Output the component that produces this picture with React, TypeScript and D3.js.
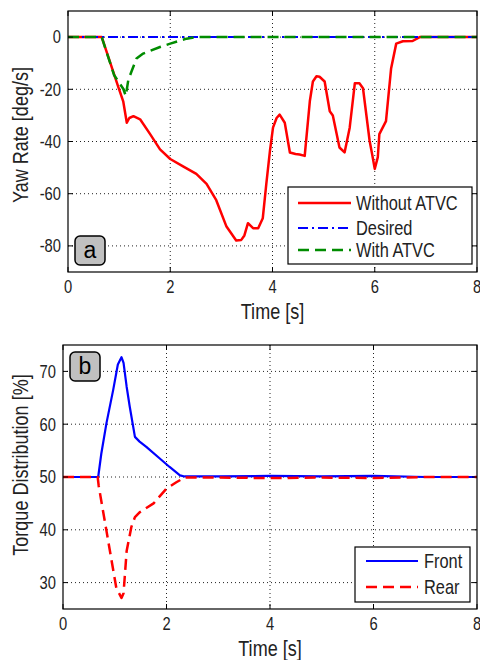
import React from "react";
import * as d3 from "d3";

// ---- Data ----
const withoutTime = [0, 0.66, 0.98, 1.08, 1.15, 1.2, 1.28, 1.41, 1.6, 1.8, 2.0, 2.25, 2.51, 2.71, 2.9, 3.1, 3.29, 3.39, 3.45, 3.52, 3.62, 3.72, 3.81, 3.88, 3.95, 4.01, 4.08, 4.14, 4.24, 4.34, 4.45, 4.53, 4.63, 4.73, 4.79, 4.86, 4.92, 5.02, 5.12, 5.18, 5.31, 5.41, 5.51, 5.61, 5.7, 5.77, 5.9, 5.95, 6.0, 6.06, 6.09, 6.22, 6.32, 6.42, 6.55, 6.74, 6.88, 8];
const withoutYaw = [0, 0, -18.9, -24.6, -32.8, -31, -30.3, -31.5, -37, -43, -46.7, -49.5, -52.4, -56.2, -62.5, -72.6, -77.9, -77.7, -76, -71.3, -73.2, -73.2, -69.4, -56, -43.6, -34.7, -31, -29.7, -32.8, -44.2, -44.8, -45, -45.5, -24.6, -17, -15, -15.2, -17, -28.4, -30, -42.3, -44.2, -34.7, -17.7, -17.7, -19.6, -39.8, -45, -50.5, -46, -37.2, -32.2, -12, -2.5, -1.6, -1.5, 0, 0];

const desiredTime = [0, 8];
const desiredYaw = [0, 0];

const withTime = [0, 0.66, 0.9, 1.08, 1.13, 1.18, 1.24, 1.34, 1.47, 1.8, 2.0, 2.32, 2.5, 8];
const withYaw = [0, 0, -14.5, -19.8, -22.5, -16.4, -13.3, -8.2, -6.3, -3.8, -2.5, -0.6, 0, 0];

const frontTime = [0, 0.68, 0.74, 0.84, 0.97, 1.06, 1.13, 1.17, 1.23, 1.29, 1.39, 1.48, 1.61, 1.87, 2.06, 2.26, 2.35, 3, 4, 5, 6, 7, 8];
const frontPct = [50, 50, 54.4, 60.2, 66.5, 71.3, 72.7, 71.6, 67.1, 63.3, 57.6, 56.7, 55.7, 53.5, 51.9, 50.3, 50.1, 50.1, 50.2, 50.1, 50.2, 50, 50];

const rearTime = [0, 0.67, 0.69, 0.84, 1.03, 1.13, 1.17, 1.23, 1.32, 1.39, 1.48, 1.75, 2.0, 2.19, 2.35, 3, 4, 5, 6, 7, 8];
const rearPct = [50, 50, 48.3, 39.8, 29, 27.1, 28, 36, 40.5, 42.4, 43.3, 45, 47.8, 49, 49.9, 49.9, 49.8, 49.9, 49.8, 50, 50];

const xTicks = [0, 2, 4, 6, 8];
const yawTicks = [0, -20, -40, -60, -80];
const pctTicks = [30, 40, 50, 60, 70];

const legendA = ["Without ATVC", "Desired", "With ATVC"];
const legendB = ["Front", "Rear"];

const FONT = "'Liberation Sans', Arial, sans-serif";
const SX = 0.82;

function NText(props: { x: number; y: number; size: number; anchor?: string; rotate?: number; dy?: string; children: React.ReactNode }) {
  const rot = props.rotate ? ` rotate(${props.rotate})` : "";
  return (
    <g transform={`translate(${props.x},${props.y})${rot} scale(${SX},1)`}>
      <text x={0} y={0} dy={props.dy} textAnchor={props.anchor || "start"} fontFamily={FONT} fontSize={props.size} fill="#222">{props.children}</text>
    </g>
  );
}

type Series = { t: number[]; v: number[]; color: string; width: number; dash?: string };

function Panel(props: {
  left: number; right: number; top: number; bottom: number;
  yDomain: [number, number]; yTicks: number[]; yLabel: string; yLabelCenter: number;
  series: Series[]; tag: string; tagBox: [number, number];
  legend: { names: string[]; box: [number, number, number, number]; rows: number[]; lineX: [number, number]; textX: number };
}) {
  const { left, right, top, bottom, yDomain, yTicks, series } = props;
  const x = d3.scaleLinear().domain([0, 8]).range([left, right]);
  const y = d3.scaleLinear().domain(yDomain).range([bottom, top]);
  const line = d3.line<[number, number]>().x((d) => x(d[0])).y((d) => y(d[1]));
  const tl = 5;
  const lg = props.legend;
  return (
    <g>
      {xTicks.filter((t) => t > 0 && t < 8).map((t) => (
        <line key={"gx" + t} x1={x(t)} x2={x(t)} y1={top} y2={bottom} stroke="#222" strokeWidth={1} strokeDasharray="1,3" />
      ))}
      {yTicks.map((t) => (
        <line key={"gy" + t} x1={left} x2={right} y1={y(t)} y2={y(t)} stroke="#222" strokeWidth={1} strokeDasharray="1,3" />
      ))}
      {series.map((s, i) => (
        <path key={"s" + i} d={line(s.t.map((tt, k) => [tt, s.v[k]] as [number, number])) || ""} fill="none" stroke={s.color} strokeWidth={s.width} strokeDasharray={s.dash} strokeLinejoin="round" />
      ))}
      <rect x={left} y={top} width={right - left} height={bottom - top} fill="none" stroke="#000" strokeWidth={1.2} />
      {xTicks.map((t) => (
        <g key={"tx" + t}>
          <line x1={x(t)} x2={x(t)} y1={bottom} y2={bottom - tl} stroke="#000" />
          <line x1={x(t)} x2={x(t)} y1={top} y2={top + tl} stroke="#000" />
          <NText x={x(t)} y={bottom + 21} size={18} anchor="middle">{t}</NText>
        </g>
      ))}
      {yTicks.map((t) => (
        <g key={"ty" + t}>
          <line x1={left} x2={left + tl} y1={y(t)} y2={y(t)} stroke="#000" />
          <line x1={right} x2={right - tl} y1={y(t)} y2={y(t)} stroke="#000" />
          <NText x={left - 7} y={y(t)} dy="0.35em" size={18} anchor="end">{t}</NText>
        </g>
      ))}
      <NText x={(left + right) / 2} y={bottom + 47} size={22} anchor="middle">Time [s]</NText>
      <NText x={28} y={props.yLabelCenter} size={22} anchor="middle" rotate={-90}>{props.yLabel}</NText>
      <rect x={props.tagBox[0]} y={props.tagBox[1]} width={30} height={29} rx={5} fill="#c0c0c0" stroke="#000" strokeWidth={1.5} />
      <text x={props.tagBox[0] + 15} y={props.tagBox[1] + 22} textAnchor="middle" fontFamily={FONT} fontSize={23} fill="#000">{props.tag}</text>
      <rect x={lg.box[0]} y={lg.box[1]} width={lg.box[2]} height={lg.box[3]} fill="#fff" stroke="#000" strokeWidth={1.2} />
      {lg.names.map((n, i) => (
        <g key={"l" + i}>
          <line x1={lg.lineX[0]} x2={lg.lineX[1]} y1={lg.rows[i]} y2={lg.rows[i]} stroke={series[i].color} strokeWidth={series[i].width} strokeDasharray={series[i].dash} />
          <NText x={lg.textX} y={lg.rows[i]} dy="0.36em" size={20}>{n}</NText>
        </g>
      ))}
    </g>
  );
}

export default function App() {
  const seriesA: Series[] = [
    { t: withoutTime, v: withoutYaw, color: "#ff0000", width: 2.5 },
    { t: desiredTime, v: desiredYaw, color: "#0000ff", width: 2, dash: "10,4,2,4" },
    { t: withTime, v: withYaw, color: "#008c00", width: 2.5, dash: "11,6" },
  ];
  const seriesB: Series[] = [
    { t: frontTime, v: frontPct, color: "#0000ff", width: 2.2 },
    { t: rearTime, v: rearPct, color: "#ff0000", width: 2.5, dash: "11,6" },
  ];
  return (
    <svg width={480} height={660} style={{ position: "absolute", left: 0, top: 0, background: "#fff" }}>
      <rect width={480} height={660} fill="#fff" />
      <Panel left={68} right={477} top={11} bottom={272} yDomain={[-90, 10]} yTicks={yawTicks}
        yLabel="Yaw Rate [deg/s]" yLabelCenter={135} series={seriesA} tag="a" tagBox={[75, 236]}
        legend={{ names: legendA, box: [288, 187, 184, 77], rows: [203, 228, 250], lineX: [298, 351], textX: 356 }} />
      <Panel left={63} right={477} top={345} bottom={609} yDomain={[25, 75]} yTicks={pctTicks}
        yLabel="Torque Distribution [%]" yLabelCenter={465} series={seriesB} tag="b" tagBox={[70, 352]}
        legend={{ names: legendB, box: [355, 547, 115, 55], rows: [561, 587], lineX: [366, 418], textX: 424 }} />
    </svg>
  );
}
